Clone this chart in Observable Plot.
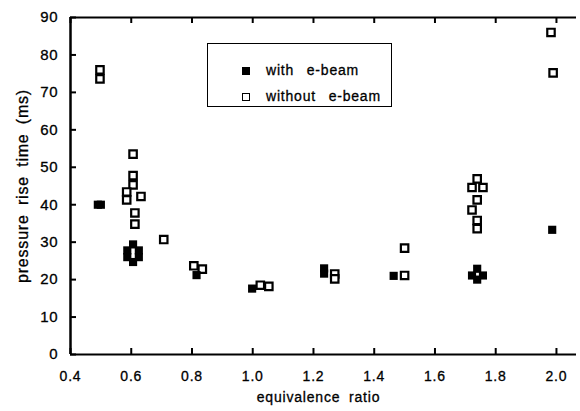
<!DOCTYPE html>
<html>
<head>
<meta charset="utf-8">
<script src="https://cdn.jsdelivr.net/npm/d3@7"></script>
<script src="https://cdn.jsdelivr.net/npm/@observablehq/plot@0.6"></script>
<style>
  html, body { margin: 0; padding: 0; background: #fff; }
  #wrap { position: relative; width: 580px; height: 411px; font-family: "Liberation Sans", Arial, Helvetica, sans-serif; }
  #legend { position: absolute; left: 207px; top: 43px; width: 183px; height: 62px; border: 1.5px solid #000; box-sizing: content-box; }
  .row { position: absolute; left: 0; font-size: 14px; letter-spacing: 0.8px; word-spacing: 8px; color: #000; -webkit-text-stroke: 0.3px #000; }
  .sw { position: absolute; width: 8px; height: 8px; box-sizing: border-box; }
</style>
</head>
<body>
<div id="wrap"></div>
<script>
// with e-beam (filled squares)
const withX = [0.49, 0.50, 0.587, 0.625, 0.587, 0.625, 0.606, 0.606, 0.815, 0.998, 1.235, 1.235, 1.464, 1.739, 1.722, 1.758, 1.739, 1.986];
const withY = [40.0, 40.0, 27.8, 27.8, 26.0, 26.0, 29.4, 24.7, 21.2, 17.6, 23.0, 21.6, 21.0, 22.9, 21.1, 21.1, 20.0, 33.3];
// without e-beam (open squares)
const withoutX = [0.497, 0.497, 0.606, 0.606, 0.606, 0.585, 0.585, 0.632, 0.612, 0.612, 0.707, 0.806, 0.834, 1.025, 1.053, 1.27, 1.27, 1.50, 1.50, 1.739, 1.722, 1.758, 1.739, 1.722, 1.739, 1.739, 1.982, 1.989];
const withoutY = [76.0, 73.6, 53.5, 47.8, 45.3, 43.4, 41.3, 42.2, 37.8, 34.8, 30.7, 23.7, 22.8, 18.5, 18.2, 21.5, 20.2, 28.4, 21.1, 46.9, 44.6, 44.6, 41.3, 38.6, 35.8, 33.6, 86.0, 75.2];
const xTicks = [0.4, 0.6, 0.8, 1.0, 1.2, 1.4, 1.6, 1.8, 2.0];
const yTicks = [0, 10, 20, 30, 40, 50, 60, 70, 80, 90];
const seriesNames = ["with e-beam", "without e-beam"];

const withData = withX.map((x, i) => ({x, y: withY[i]}));
const withoutData = withoutX.map((x, i) => ({x, y: withoutY[i]}));

const font = "\"Liberation Sans\", Arial, Helvetica, sans-serif";
const frameH = 411 - 17 - 57;   // frame height in px
const frameW = 580 - 70 - 4;    // frame width in px
const tickLen = 6;

const chart = Plot.plot({
  width: 580,
  height: 411,
  marginLeft: 70,
  marginRight: 4,
  marginTop: 17,
  marginBottom: 57,
  style: {fontFamily: font, fontSize: "14px", background: "#fff"},
  x: {domain: [0.4, 2.066]},
  y: {domain: [0, 90]},
  marks: [
    // axis labels
    Plot.axisX(xTicks, {anchor: "bottom", tickSize: 0, tickPadding: 17, tickFormat: d => d.toFixed(1), label: null, fontSize: 14}),
    Plot.axisY(yTicks, {anchor: "left", tickSize: 0, tickPadding: 12, label: null, fontSize: 15}),
    // inward ticks
    Plot.ruleX(xTicks, {x: d => d, insetTop: frameH - tickLen, stroke: "black", strokeWidth: 2}),
    Plot.ruleX(xTicks, {x: d => d, insetBottom: frameH - tickLen, stroke: "black", strokeWidth: 2}),
    Plot.ruleY(yTicks, {y: d => d, insetRight: frameW - tickLen, stroke: "black", strokeWidth: 2}),
    // frame lines
    Plot.ruleY([0, 90], {stroke: "black", strokeWidth: 2}),
    Plot.ruleX([0.4], {stroke: "black", strokeWidth: 2.5}),
    // titles
    Plot.text(["equivalence ratio"], {frameAnchor: "bottom", textAnchor: "middle", dy: 47, dx: -5, fontSize: 14, fill: "black"}),
    Plot.text(["pressure rise time (ms)"], {frameAnchor: "left", textAnchor: "middle", dx: -48, rotate: -90, fontSize: 16, fill: "black"}),
    // data
    Plot.dot(withoutData, {x: "x", y: "y", symbol: "square", r: 4.2, stroke: "black", strokeWidth: 2.2, fill: "white"}),
    Plot.dot(withData, {x: "x", y: "y", symbol: "square", r: 4.6, fill: "black", stroke: "none"})
  ]
});

const wrap = document.getElementById("wrap");
wrap.appendChild(chart);
// letter/word spacing and slight weight for the text elements (style only)
chart.querySelectorAll("text").forEach(t => {
  t.style.letterSpacing = "0.8px";
  t.style.wordSpacing = "4px";
  t.style.stroke = "#000";
  t.style.strokeWidth = "0.3px";
  t.style.fill = "#000";
});

// legend overlay
const legend = document.createElement("div");
legend.id = "legend";
const entries = [
  {name: seriesNames[0], filled: true, top: 27},
  {name: seriesNames[1], filled: false, top: 53}
];
for (const e of entries) {
  const sw = document.createElement("div");
  sw.className = "sw";
  sw.style.left = "34px";
  sw.style.top = (e.top - 4) + "px";
  if (e.filled) { sw.style.background = "#000"; }
  else { sw.style.border = "1.6px solid #000"; sw.style.background = "#fff"; }
  legend.appendChild(sw);
  const t = document.createElement("div");
  t.className = "row";
  t.style.left = "58px";
  t.style.top = (e.top - 9) + "px";
  t.style.whiteSpace = "pre";
  t.textContent = e.name;
  legend.appendChild(t);
}
wrap.appendChild(legend);
</script>
</body>
</html>
